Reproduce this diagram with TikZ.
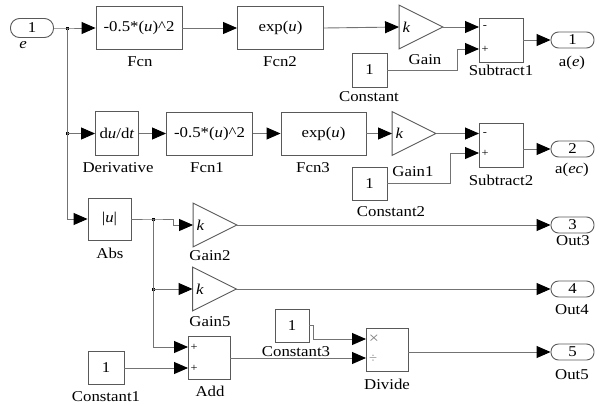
\documentclass[tikz,border=0pt]{standalone}
\usepackage{fontspec}
\setmainfont{Liberation Serif}[FakeStretch=1.12]
\usetikzlibrary{arrows.meta}

\begin{document}
\begin{tikzpicture}[x=1pt,y=-1pt,line width=0.9pt,
  font=\fontsize{15}{17}\selectfont,
  blk/.style={draw=black!65,fill=white,inner sep=0pt,minimum width=#1},
  blk/.default=86pt,
  gainbox/.style={inner sep=0pt,minimum width=43pt,minimum height=43pt,
    text width=37pt,align=left},
  port/.style={draw=black!65,rounded corners=7.5pt,inner sep=0pt,
    minimum width=43pt,minimum height=16pt},
  dot/.style={fill=black,inner sep=0pt,minimum size=3pt},
  sgn/.style={font=\fontsize{11}{11}\selectfont,inner sep=0pt},
  wire/.style={draw=black!55,-{Triangle[length=14pt,width=12pt,color=black]}},
  line/.style={draw=black!55}]
\useasboundingbox (0,0) rectangle (602,405);
%
% Ligne 1
\node[port,minimum height=19pt,rounded corners=9pt] (in1) at (32,28) {1};
\node (lblE) at (23,45) {\textit{e}};
\node[dot] (j1) at (67,28) {};
\node[blk,minimum height=43pt] (fcn) at (139,28) {-0.5*(\textit{u})\textasciicircum2};
\node[blk,minimum height=43pt] (fcn2) at (280.5,28) {exp(\textit{u})};
\node[gainbox] (gain) at (421,27) {\textit{k}};
\node[blk=44pt,minimum height=44pt] (sub1) at (501,40) {};
\coordinate (sub1m) at (479,27);
\coordinate (sub1p) at (479,49);
\node[sgn] (s1m) at (485,27) {-};
\node[sgn] (s1p) at (485,49) {+};
\node[blk=35pt,minimum height=34pt] (const) at (369.5,70) {1};
\coordinate (b1) at (457,49);
\node[port] (out1) at (572.5,40) {1};
%
\node (lblFcn) at (140,62) {Fcn};
\node (lblFcn2) at (280,62) {Fcn2};
\node (lblGain) at (425,60) {Gain};
\node (lblSub1) at (501,70) {Subtract1};
\node (lblConst) at (369,97) {Constant};
\node (lblOut1) at (572,63) {a(\textit{e})};
%
% Ligne 2
\node[dot] (j2) at (67,133.5) {};
\node[blk=43pt,minimum height=44pt] (deriv) at (117,133.5) {d\textit{u}/d\textit{t}};
\node[blk=86pt,minimum height=43pt] (fcn1) at (209.5,133.5) {-0.5*(\textit{u})\textasciicircum2};
\node[blk=85pt,minimum height=43pt] (fcn3) at (323.5,133.5) {exp(\textit{u})};
\node[gainbox] (gain1) at (414,133.5) {\textit{k}};
\node[blk=44pt,minimum height=44pt] (sub2) at (501,145) {};
\coordinate (sub2m) at (479,133.5);
\coordinate (sub2p) at (479,153);
\node[sgn] (s2m) at (485,133.5) {-};
\node[sgn] (s2p) at (485,153) {+};
\node[blk=35pt,minimum height=33pt] (const2) at (369.5,183.5) {1};
\coordinate (b2) at (450,153);
\node[port] (out2) at (572.5,149) {2};
%
\node (lblDeriv) at (118,168) {Derivative};
\node (lblFcn1) at (207,168) {Fcn1};
\node (lblFcn3) at (313,168) {Fcn3};
\node (lblGain1) at (413,172) {Gain1};
\node (lblSub2) at (501,180) {Subtract2};
\node (lblConst2) at (391,212) {Constant2};
\node (lblOut2) at (572,170) {a(\textit{ec})};
%
% Ligne 3, 4, 5
\node[blk=43pt,minimum height=42pt] (abs) at (109.5,219) {|\textit{u}|};
\node[dot] (j3) at (153,219) {};
\coordinate (b3) at (173,225);
\node[gainbox] (gain2) at (215,225) {\textit{k}};
\node[port] (out3) at (572.5,225) {3};
\node[dot] (j4) at (153,289) {};
\node[gainbox] (gain5) at (214.5,289) {\textit{k}};
\node[port] (out4) at (572.5,289) {4};
\node[blk=42pt,minimum height=43pt] (add) at (209,358) {};
\coordinate (add1) at (188,347);
\coordinate (add2) at (188,368);
\node[sgn] (a1) at (194,347) {+};
\node[sgn] (a2) at (194,368) {+};
\node[blk=36pt,minimum height=33pt] (const1) at (106,368) {1};
\node[blk=34pt,minimum height=33pt] (const3) at (292,325.5) {1};
\coordinate (b4) at (313,339);
\node[blk=42pt,minimum height=43pt] (divide) at (387,350) {};
\coordinate (div1) at (366,339);
\coordinate (div2) at (366,358);
\node[sgn,text=black!50,font=\fontsize{16}{16}\selectfont] (dm) at (374,339) {×};
\node[sgn,text=black!50,font=\fontsize{13}{13}\selectfont] (dd) at (373,359) {÷};
\node[port] (out5) at (572.5,352) {5};
%
\node (lblAbs) at (110,253) {Abs};
\node (lblGain2) at (210,256) {Gain2};
\node (lblOut3) at (573,241) {Out3};
\node (lblGain5) at (210,322) {Gain5};
\node (lblOut4) at (572,310) {Out4};
\node (lblAdd) at (210,391) {Add};
\node (lblConst1) at (106,397) {Constant1};
\node (lblConst3) at (296,352) {Constant3};
\node (lblDivide) at (387,384) {Divide};
\node (lblOut5) at (572,375) {Out5};
%
% Triangles des gains
\foreach \g in {gain,gain1,gain2,gain5}
  \draw[draw=black!65] (\g.north west) -- (\g.east) -- (\g.south west) -- cycle;
%
% Liaisons
\draw[wire] (in1.east) -- (j1.center) -- (fcn.west);
\draw[wire] (fcn.east) -- (fcn2.west);
\draw[wire] (fcn2.east) -- (gain.west);
\draw[wire] (gain.east) -- (sub1m);
\draw[wire] (const.east) -| (b1) -- (sub1p);
\draw[wire] (out1.west -| sub1.east) -- (out1.west);
\draw[wire] (j1.center) -- (j2.center) -- (deriv.west);
\draw[wire] (deriv.east) -- (fcn1.west);
\draw[wire] (fcn1.east) -- (fcn3.west);
\draw[wire] (fcn3.east) -- (gain1.west);
\draw[wire] (gain1.east) -- (sub2m);
\draw[wire] (const2.east) -| (b2) -- (sub2p);
\draw[wire] (out2.west -| sub2.east) -- (out2.west);
\draw[wire] (j2.center) |- (abs.west);
\draw[wire] (abs.east) -- (j3.center) -| (b3) -- (gain2.west);
\draw[wire] (gain2.east) -- (out3.west);
\draw[line] (j3.center) -- (j4.center);
\draw[wire] (j4.center) -- (gain5.west);
\draw[wire] (gain5.east) -- (out4.west);
\draw[wire] (j4.center) |- (add1);
\draw[wire] (const1.east) -- (add2);
\draw[wire] (add.east) -- (div2);
\draw[wire] (const3.east) -| (b4) -- (div1);
\draw[wire] (out5.west -| divide.east) -- (out5.west);
\end{tikzpicture}
\end{document}
